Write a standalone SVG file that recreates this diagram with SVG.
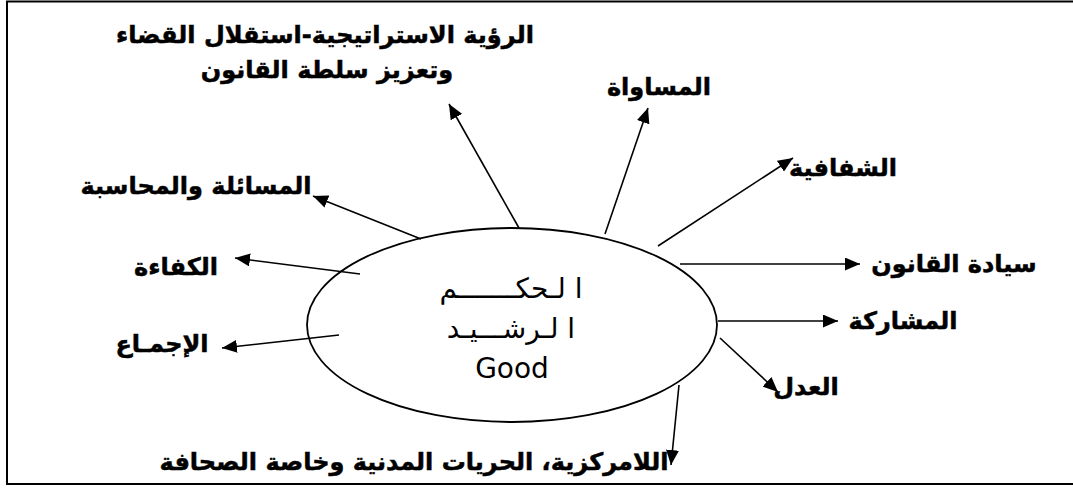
<svg xmlns="http://www.w3.org/2000/svg" width="1073" height="488" viewBox="0 0 1073 488">
<style>
.lbl{font-family:"DejaVu Sans","Liberation Sans",sans-serif;font-weight:bold;font-size:24px;fill:#000;stroke:#000;stroke-width:0.5;text-anchor:middle}
.ctr{font-family:"DejaVu Sans","Noto Sans",sans-serif;font-size:28px;fill:#000;text-anchor:middle}
.con{stroke:#000;stroke-width:1.6;fill:none;marker-end:url(#ah)}
</style>
<defs>
<marker id="ah" markerUnits="userSpaceOnUse" markerWidth="16" markerHeight="13" refX="15" refY="6.5" orient="auto">
<path d="M0,0 L15,6.5 L0,13 z" fill="#000"/>
</marker>
</defs>
<rect x="7" y="1.5" width="1080" height="482.5" fill="#fff" stroke="#000" stroke-width="2"/>
<g id="center">
<ellipse cx="512" cy="325" rx="205" ry="97" fill="none" stroke="#000" stroke-width="1.8"/>
<text class="ctr" x="511" y="298">ا لـحكـــــــم</text>
<text class="ctr" x="511" y="338">ا لـرشـــيـد</text>
<text class="ctr" x="512" y="378">Good</text>
</g>
<g id="connectors">
<line class="con" x1="519" y1="228" x2="449" y2="104"/>
<line class="con" x1="605" y1="234" x2="648" y2="108"/>
<line class="con" x1="658" y1="246" x2="793" y2="158"/>
<line class="con" x1="680" y1="264" x2="860" y2="264"/>
<line class="con" x1="718" y1="321" x2="838" y2="321"/>
<line class="con" x1="720" y1="338" x2="778" y2="392"/>
<line class="con" x1="679" y1="385" x2="671" y2="465"/>
<line class="con" x1="421" y1="239" x2="313" y2="196"/>
<line class="con" x1="360" y1="274" x2="235" y2="258"/>
<line class="con" x1="339" y1="335" x2="222" y2="348"/>
</g>
<g id="n-vision">
<text class="lbl" x="325" y="43">الرؤية الاستراتيجية-استقلال القضاء</text>
<text class="lbl" x="327" y="78">وتعزيز سلطة القانون</text>
</g>
<g id="n-equality"><text class="lbl" x="659" y="95">المساواة</text></g>
<g id="n-transparency"><text class="lbl" x="843" y="176">الشفافية</text></g>
<g id="n-ruleoflaw"><text class="lbl" x="954" y="272">سيادة القانون</text></g>
<g id="n-participation"><text class="lbl" x="903" y="329">المشاركة</text></g>
<g id="n-justice"><text class="lbl" x="806" y="395">العدل</text></g>
<g id="n-decentral"><text class="lbl" x="414" y="470">اللامركزية، الحريات المدنية وخاصة الصحافة</text></g>
<g id="n-accountability"><text class="lbl" x="196" y="194">المسائلة والمحاسبة</text></g>
<g id="n-competence"><text class="lbl" x="176" y="275">الكفاءة</text></g>
<g id="n-consensus"><text class="lbl" x="162" y="352">الإجمـاع</text></g>
</svg>
